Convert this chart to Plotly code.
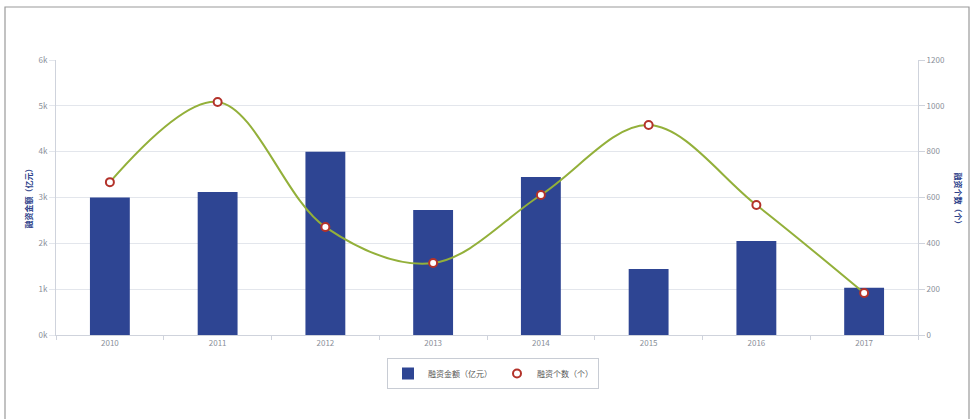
import plotly.graph_objects as go

years = ["2010", "2011", "2012", "2013", "2014", "2015", "2016", "2017"]
amount = [3000, 3120, 4000, 2730, 3450, 1440, 2050, 1030]   # 融资金额（亿元）
count = [667, 1017, 471, 314, 611, 916, 567, 183]          # 融资个数（个）

left_ticks = [0, 1000, 2000, 3000, 4000, 5000, 6000]
left_labels = ["0k", "1k", "2k", "3k", "4k", "5k", "6k"]
right_ticks = [0, 200, 400, 600, 800, 1000, 1200]

W, H = 973, 419
L, R, T, B = 56, 55, 60, 84
pw, ph = W - L - R, H - T - B

FONT = "Noto Sans CJK SC"
TICK = dict(family=FONT, size=8, color="#8a8f99")
TITLE_COLOR = "#2d3f8a"

fig = go.Figure()
fig.add_trace(go.Bar(
    x=years, y=amount, name="融资金额（亿元）",
    marker=dict(color="#2e4593", line=dict(width=0)),
    width=0.37, yaxis="y",
))
# smooth connecting curve (kept out of the legend)
fig.add_trace(go.Scatter(
    x=years, y=count, yaxis="y2", mode="lines", showlegend=False,
    line=dict(color="#93b03a", width=2, shape="spline", smoothing=1.0),
    hoverinfo="skip",
))
# point markers, shown in the legend as a marker only
fig.add_trace(go.Scatter(
    x=years, y=count, name="融资个数（个）", yaxis="y2", mode="markers",
    marker=dict(size=8, color="white", line=dict(color="#b3322a", width=2)),
))


def px(x):
    return (x - L) / pw


def py(y):
    return (H - B - y) / ph


fig.update_layout(
    width=W, height=H,
    margin=dict(l=L, r=R, t=T, b=B),
    paper_bgcolor="white", plot_bgcolor="white",
    font=dict(family=FONT, color="#666"),
    xaxis=dict(
        type="category", tickfont=TICK, showgrid=False,
        showline=True, linecolor="#cfd3dc", linewidth=1,
        ticks="outside", ticklen=4, tickcolor="#cfd3dc",
        tickson="boundaries",
    ),
    yaxis=dict(
        range=[0, 6000], tickvals=left_ticks, ticktext=left_labels,
        tickfont=TICK, gridcolor="#e3e6ec", gridwidth=1,
        showline=True, linecolor="#cfd3dc", ticks="outside", ticklen=6,
        tickcolor="#e3e6ec", zeroline=False,
    ),
    yaxis2=dict(
        range=[0, 1200], tickvals=right_ticks, overlaying="y", side="right",
        tickfont=TICK, showgrid=False,
        showline=True, linecolor="#cfd3dc", ticks="outside", ticklen=6,
        tickcolor="#cfd3dc", zeroline=False,
    ),
    legend=dict(
        orientation="h", x=px(493), xanchor="center", y=py(358), yanchor="top",
        bordercolor="#c8ccd4", borderwidth=1, bgcolor="white",
        font=dict(family=FONT, size=8, color="#555"),
        itemwidth=30,
    ),
    annotations=[
        dict(text="<b>融资金额（亿元）</b>", xref="paper", yref="paper",
             x=px(20), y=py(197), textangle=-90, showarrow=False,
             font=dict(family=FONT, size=8, color=TITLE_COLOR)),
        dict(text="<b>融资个数（个）</b>", xref="paper", yref="paper",
             x=px(965), y=py(200), textangle=90, showarrow=False,
             font=dict(family=FONT, size=8, color=TITLE_COLOR)),
    ],
    shapes=[
        dict(type="rect", xref="paper", yref="paper",
             x0=px(5), x1=px(969), y0=py(430), y1=py(7),
             line=dict(color="#9a9a9a", width=1.2), fillcolor="rgba(0,0,0,0)",
             layer="below"),
    ],
)

fig.write_html("out.html")
